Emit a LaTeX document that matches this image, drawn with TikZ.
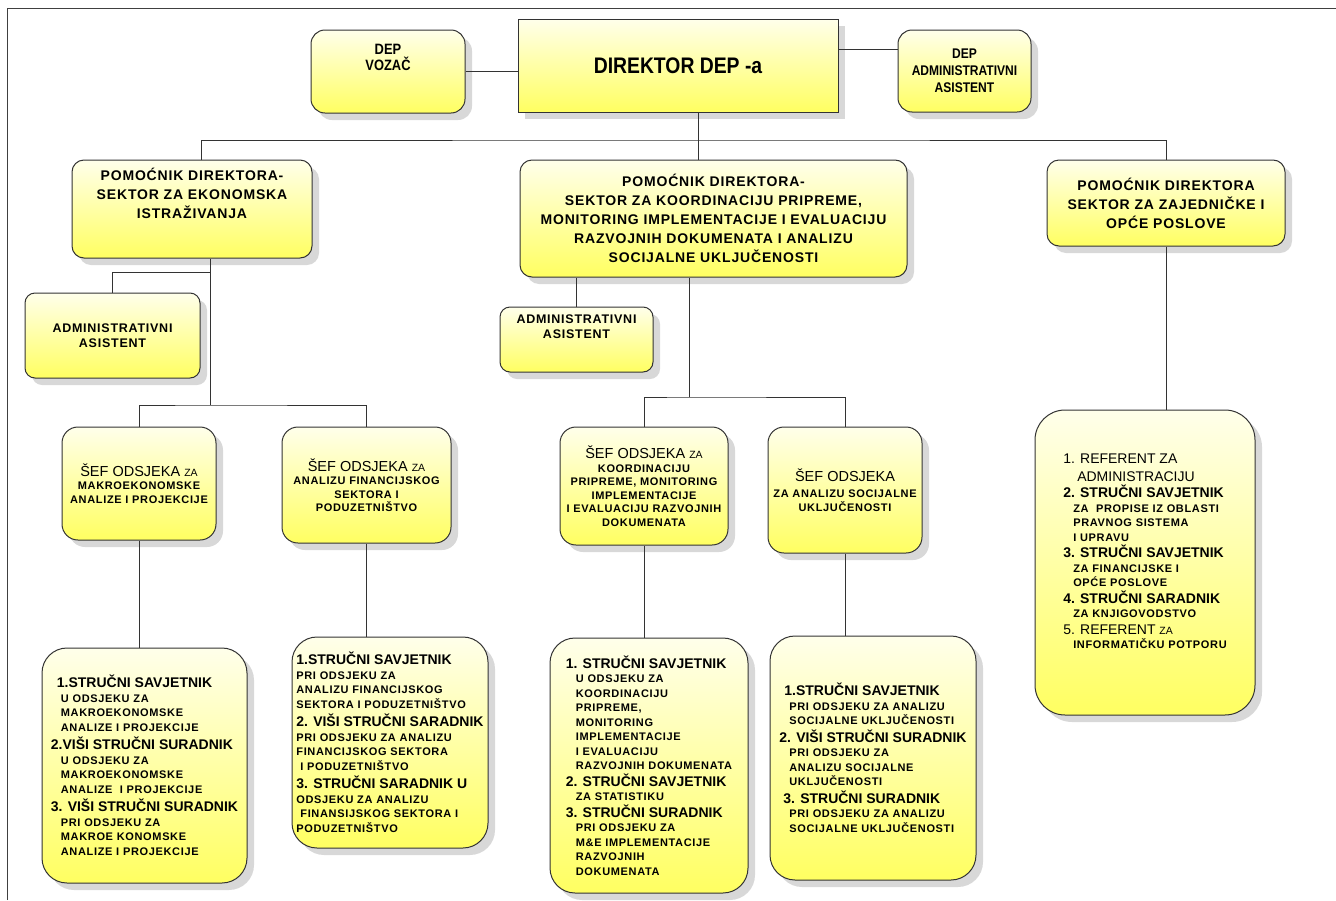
\documentclass[tikz,border=0pt]{standalone}
\usepackage{fontspec}
\setmainfont{Liberation Sans}
\newfontfamily\wf[LetterSpace=6]{Liberation Sans}
\newfontfamily\nf[FakeStretch=0.86]{Liberation Sans}
\usetikzlibrary{shadows}
\newcommand\hdfont{\normalfont\bfseries\fontsize{14}{15}\selectfont}
\newcommand\seffont{\normalfont\fontsize{14.5}{16}\selectfont}
\newcommand\zafont{\fontsize{10.5}{12}\selectfont}
\newcommand\subind{\hspace*{10pt}}
\begin{document}
\begin{tikzpicture}[x=1pt,y=-1pt,
box/.style={draw=black!80,line width=1pt,top color=yellow!8,bottom color=yellow!62,
 drop shadow={shadow xshift=7pt,shadow yshift=-7pt,fill=black!30},inner sep=0pt,align=center},
rbox/.style={box,rounded corners=#1},
sz/.style 2 args={minimum width=#1pt,minimum height=#2pt},
deptop/.style={rbox=14pt,font=\nf\bfseries\fontsize{15}{16}\selectfont},
sec/.style={rbox=12pt,font=\wf\bfseries\fontsize{14}{19}\selectfont},
adm/.style={rbox=10pt,font=\wf\bfseries\fontsize{12.5}{15.5}\selectfont},
sef/.style={rbox=16pt,font=\wf\bfseries\fontsize{11}{13.5}\selectfont},
staff/.style={rbox=25pt,align=left,font=\wf\bfseries\fontsize{11}{14.5}\selectfont},
ln/.style={draw=black!80,line width=0.9pt}]
\useasboundingbox (0,0) rectangle (1336,900);
\draw[black!75,line width=0.8pt] (7,900) -- (7,8) -- (1336,8);
\node[box,sz={320}{93},font=\nf\bfseries\fontsize{22.5}{24}\selectfont] (dir) at (678,65.5) {DIREKTOR DEP -a};
\node[deptop,sz={154}{83},text depth=28pt] (voz) at (388,71.5) {DEP\\VOZAČ};
\node[deptop,sz={133}{82},font=\nf\bfseries\fontsize{14}{17}\selectfont] (dadm) at (964.5,71) {DEP\\ADMINISTRATIVNI\\ASISTENT};
\node[sec,sz={240}{98},text depth=32pt] (secA) at (192,209) {POMOĆNIK DIREKTORA-\\SEKTOR ZA EKONOMSKA\\ISTRAŽIVANJA};
\node[sec,sz={387}{117}] (secB) at (713.5,218.5) {POMOĆNIK DIREKTORA-\\SEKTOR ZA KOORDINACIJU PRIPREME,\\MONITORING IMPLEMENTACIJE I EVALUACIJU\\RAZVOJNIH DOKUMENATA I ANALIZU\\SOCIJALNE UKLJUČENOSTI};
\node[sec,sz={238}{86}] (secC) at (1166,203) {POMOĆNIK DIREKTORA\\SEKTOR ZA ZAJEDNIČKE I\\OPĆE POSLOVE};
\node[adm,sz={175}{85}] (admA) at (112.5,335.5) {ADMINISTRATIVNI\\ASISTENT};
\node[adm,sz={153}{65},text depth=26pt] (admB) at (576.5,339.5) {ADMINISTRATIVNI\\ASISTENT};
\node[sef,sz={154}{113}] (sefA1) at (139,483.5) {{\seffont ŠEF ODSJEKA {\zafont ZA}}\\MAKROEKONOMSKE\\ANALIZE I PROJEKCIJE};
\node[sef,sz={169}{116}] (sefA2) at (366.5,485) {{\seffont ŠEF ODSJEKA {\zafont ZA}}\\ANALIZU FINANCIJSKOG\\SEKTORA I\\PODUZETNIŠTVO};
\node[sef,sz={168}{118}] (sefB1) at (644,486) {{\seffont ŠEF ODSJEKA {\zafont ZA}}\\KOORDINACIJU\\PRIPREME, MONITORING\\IMPLEMENTACIJE\\I EVALUACIJU RAZVOJNIH\\DOKUMENATA};
\node[sef,sz={154}{126}] (sefB2) at (845,490) {{\seffont ŠEF ODSJEKA}\\[3pt]ZA ANALIZU SOCIJALNE\\UKLJUČENOSTI};
\node[staff,sz={205}{235}] (stA1) at (144.5,765.5) {\hspace*{6pt}{\hdfont 1.STRUČNI SAVJETNIK}\\
\subind U ODSJEKU ZA\\
\subind MAKROEKONOMSKE\\
\subind ANALIZE I PROJEKCIJE\\[4pt]
{\hdfont 2.VIŠI STRUČNI SURADNIK}\\
\subind U ODSJEKU ZA\\
\subind MAKROEKONOMSKE\\
\subind ANALIZE\ \ I PROJEKCIJE\\[4pt]
{\hdfont 3. VIŠI STRUČNI SURADNIK}\\
\subind PRI ODSJEKU ZA\\
\subind MAKROE KONOMSKE\\
\subind ANALIZE I PROJEKCIJE};
\node[staff,sz={196}{211}] (stA2) at (390,742.5) {{\hdfont 1.STRUČNI SAVJETNIK}\\
PRI ODSJEKU ZA\\
ANALIZU FINANCIJSKOG\\
SEKTORA I PODUZETNIŠTVO\\[4pt]
{\hdfont 2. VIŠI STRUČNI SARADNIK}\\
PRI ODSJEKU ZA ANALIZU\\
FINANCIJSKOG SEKTORA\\
\hspace*{4pt}I PODUZETNIŠTVO\\[4pt]
{\hdfont 3. STRUČNI SARADNIK U}\\
ODSJEKU ZA ANALIZU\\
\hspace*{4pt}FINANSIJSKOG SEKTORA I\\
PODUZETNIŠTVO};
\node[staff,sz={198}{255}] (stB1) at (649,765.5) {{\hdfont 1. STRUČNI SAVJETNIK}\\
\subind U ODSJEKU ZA\\
\subind KOORDINACIJU\\
\subind PRIPREME,\\
\subind MONITORING\\
\subind IMPLEMENTACIJE\\
\subind I EVALUACIJU\\
\subind RAZVOJNIH DOKUMENATA\\[2pt]
{\hdfont 2. STRUČNI SAVJETNIK}\\
\subind ZA STATISTIKU\\[2pt]
{\hdfont 3. STRUČNI SURADNIK}\\
\subind PRI ODSJEKU ZA\\
\subind M\&E IMPLEMENTACIJE\\
\subind RAZVOJNIH\\
\subind DOKUMENATA};
\node[staff,sz={206}{244}] (stB2) at (873,758) {\hspace*{5pt}{\hdfont 1.STRUČNI SAVJETNIK}\\
\subind PRI ODSJEKU ZA ANALIZU\\
\subind SOCIJALNE UKLJUČENOSTI\\[3pt]
{\hdfont 2. VIŠI STRUČNI SURADNIK}\\
\subind PRI ODSJEKU ZA\\
\subind ANALIZU SOCIJALNE\\
\subind UKLJUČENOSTI\\[3pt]
\hspace*{4pt}{\hdfont 3. STRUČNI SURADNIK}\\
\subind PRI ODSJEKU ZA ANALIZU\\
\subind SOCIJALNE UKLJUČENOSTI};
\node[staff,rounded corners=30pt,sz={220}{305},text depth=22pt] (stC) at (1145,562.5) {{\hdfont\mdseries 1. REFERENT ZA}\\[3pt]
{\hdfont\mdseries\hspace*{14pt}ADMINISTRACIJU}\\[2pt]
{\hdfont 2. STRUČNI SAVJETNIK}\\
\subind ZA\ \ PROPISE IZ OBLASTI\\
\subind PRAVNOG SISTEMA\\
\subind I UPRAVU\\[2pt]
{\hdfont 3. STRUČNI SAVJETNIK}\\
\subind ZA FINANCIJSKE I\\
\subind OPĆE POSLOVE\\[2pt]
{\hdfont 4. STRUČNI SARADNIK}\\
\subind ZA KNJIGOVODSTVO\\[2pt]
{\hdfont\mdseries 5. REFERENT {\zafont ZA}}\\
\subind INFORMATIČKU POTPORU};
\coordinate (busTop) at (698,140);
\coordinate (trA) at (210,405);
\coordinate (brA) at (210,272);
\coordinate (trB) at (689,397);
\draw[ln] (voz.east) -- (voz.east -| dir.west);
\draw[ln] ([yshift=16pt]dir.east) -- ([yshift=16pt]dir.east -| dadm.west);
\draw[ln] (dir.south -| busTop) -- (busTop |- secB.north);
\draw[ln] ([xshift=9pt]secA.north) |- (busTop) -| (secC.north);
\draw[ln] (secA.south -| trA) -- (trA);
\draw[ln] (admA.north) |- (brA);
\draw[ln] (sefA1.north) |- (trA) -| (sefA2.north);
\draw[ln] (sefA1.south) -- (sefA1.south |- stA1.north);
\draw[ln] (sefA2.south) -- (sefA2.south |- stA2.north);
\draw[ln] (secB.south -| trB) -- (trB);
\draw[ln] (admB.north) -- (admB.north |- secB.south);
\draw[ln] (sefB1.north) |- (trB) -| (sefB2.north);
\draw[ln] (sefB1.south) -- (sefB1.south |- stB1.north);
\draw[ln] (sefB2.south) -- (sefB2.south |- stB2.north);
\draw[ln] (secC.south) -- (secC.south |- stC.north);
\end{tikzpicture}
\end{document}
